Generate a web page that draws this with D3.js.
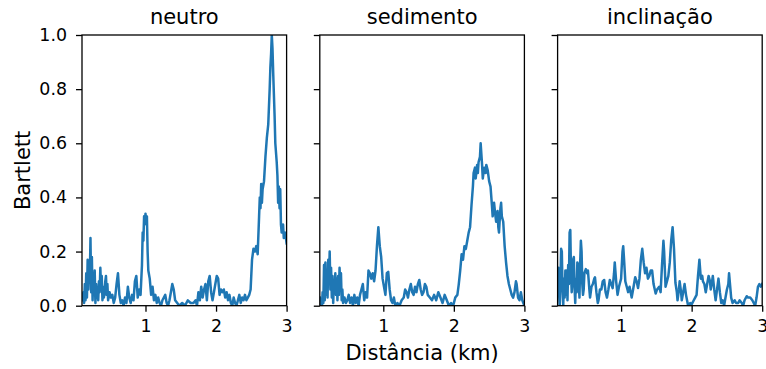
<!DOCTYPE html>
<html>
<head>
<meta charset="utf-8">
<script src="https://cdn.jsdelivr.net/npm/d3@7"></script>
<style>
  body { margin: 0; background: #fff; }
  text { font-family: 'DejaVu Sans', sans-serif; fill: #000; }
</style>
</head>
<body>
<div id="chart"></div>
<script>
// panel titles
const titles = ['neutro', 'sedimento', 'inclinação'];
const xTicks = [1, 2, 3];
const yTicks = [0, 0.2, 0.4, 0.6, 0.8, 1.0];

// neutro
const neutroX = [0.10,0.12,0.13,0.14,0.15,0.16,0.17,0.18,0.19,0.20,0.21,0.22,0.23,0.24,0.25,0.26,0.27,0.28,0.29,0.30,
  0.31,0.32,0.33,0.34,0.35,0.36,0.37,0.38,0.39,0.40,0.41,0.42,0.43,0.44,0.45,0.46,0.47,0.49,0.51,0.53,
  0.55,0.57,0.59,0.61,0.63,0.65,0.67,0.69,0.71,0.73,0.75,0.77,0.79,0.81,0.83,0.85,0.87,0.89,0.91,0.93,
  0.95,0.96,0.97,0.98,0.99,1.00,1.01,1.02,1.03,1.04,1.06,1.08,1.10,1.12,1.14,1.16,1.18,1.20,1.22,1.24,
  1.26,1.28,1.30,1.32,1.34,1.36,1.38,1.40,1.42,1.45,1.48,1.52,1.56,1.60,1.64,1.68,1.71,1.73,1.75,1.77,
  1.79,1.81,1.83,1.85,1.87,1.89,1.91,1.93,1.95,1.97,1.99,2.01,2.03,2.05,2.07,2.09,2.11,2.13,2.15,2.17,
  2.19,2.21,2.23,2.25,2.27,2.29,2.31,2.33,2.35,2.37,2.39,2.41,2.43,2.45,2.47,2.49,2.51,2.53,2.55,2.57,
  2.59,2.61,2.62,2.63,2.64,2.65,2.66,2.68,2.70,2.72,2.74,2.76,2.77,2.78,2.79,2.80,2.81,2.82,2.83,2.84,
  2.86,2.87,2.88,2.89,2.90,2.91,2.92,2.93,2.95,2.96,2.98,3.00];
const neutroY = [0.02,0.05,0.01,0.08,0.02,0.12,0.03,0.17,0.06,0.14,0.09,0.25,0.05,0.18,0.02,0.10,0.04,0.13,0.01,0.08,
  0.03,0.06,0.02,0.09,0.05,0.14,0.06,0.11,0.02,0.07,0.03,0.05,0.09,0.11,0.04,0.08,0.02,0.05,0.03,0.04,
  0.01,0.03,0.08,0.12,0.04,0.01,0.02,0.00,0.03,0.01,0.07,0.03,0.01,0.04,0.02,0.09,0.11,0.03,0.06,0.04,
  0.15,0.27,0.24,0.33,0.30,0.34,0.31,0.33,0.20,0.13,0.10,0.04,0.07,0.02,0.04,0.01,0.03,0.01,0.00,0.02,
  0.03,0.04,0.01,0.00,0.02,0.05,0.08,0.06,0.02,0.01,0.00,0.01,0.00,0.02,0.01,0.01,0.02,0.00,0.05,0.02,
  0.07,0.03,0.06,0.08,0.02,0.09,0.11,0.05,0.02,0.05,0.08,0.11,0.10,0.04,0.06,0.05,0.06,0.03,0.05,0.02,
  0.04,0.01,0.00,0.03,0.01,0.00,0.02,0.04,0.01,0.03,0.02,0.04,0.02,0.03,0.04,0.06,0.17,0.21,0.20,0.22,
  0.19,0.33,0.40,0.36,0.45,0.38,0.43,0.46,0.55,0.62,0.67,0.80,0.88,0.93,1.00,0.95,0.86,0.78,0.70,0.60,
  0.53,0.48,0.38,0.44,0.36,0.43,0.30,0.27,0.30,0.25,0.27,0.23];

// sedimento
const sedX = [0.10,0.11,0.12,0.13,0.14,0.15,0.16,0.17,0.18,0.19,0.20,0.21,0.22,0.23,0.24,0.25,0.26,0.27,0.28,0.29,
  0.30,0.31,0.32,0.33,0.34,0.35,0.36,0.37,0.38,0.39,0.40,0.41,0.42,0.43,0.45,0.47,0.49,0.51,0.53,0.55,
  0.57,0.59,0.61,0.63,0.65,0.67,0.69,0.71,0.73,0.75,0.77,0.79,0.81,0.83,0.85,0.87,0.89,0.91,0.93,0.95,
  0.97,0.99,1.01,1.03,1.05,1.07,1.09,1.11,1.13,1.15,1.17,1.20,1.23,1.26,1.29,1.31,1.33,1.35,1.37,1.39,
  1.41,1.43,1.45,1.47,1.49,1.51,1.53,1.55,1.57,1.59,1.61,1.63,1.66,1.69,1.72,1.75,1.78,1.81,1.84,1.87,
  1.90,1.93,1.96,1.99,2.02,2.05,2.07,2.09,2.11,2.13,2.15,2.17,2.19,2.21,2.23,2.25,2.27,2.28,2.30,2.31,
  2.33,2.34,2.35,2.37,2.38,2.39,2.40,2.41,2.43,2.45,2.46,2.48,2.50,2.52,2.54,2.55,2.57,2.59,2.60,2.62,
  2.63,2.64,2.66,2.67,2.68,2.70,2.72,2.74,2.76,2.78,2.80,2.82,2.84,2.86,2.88,2.89,2.91,2.93,2.95,2.97,3.00];
const sedY = [0.03,0.00,0.02,0.00,0.05,0.01,0.15,0.02,0.16,0.04,0.12,0.03,0.17,0.08,0.20,0.06,0.14,0.03,0.11,0.01,
  0.09,0.05,0.12,0.04,0.10,0.02,0.11,0.04,0.14,0.07,0.12,0.02,0.06,0.01,0.03,0.01,0.02,0.04,0.01,0.03,
  0.00,0.04,0.01,0.03,0.00,0.04,0.06,0.08,0.02,0.05,0.03,0.13,0.12,0.10,0.12,0.09,0.13,0.22,0.29,0.22,
  0.18,0.10,0.07,0.04,0.12,0.125,0.06,0.02,0.01,0.03,0.00,0.01,0.00,0.02,0.03,0.06,0.05,0.03,0.06,0.08,
  0.05,0.04,0.07,0.05,0.08,0.095,0.06,0.04,0.05,0.08,0.07,0.04,0.03,0.02,0.04,0.02,0.05,0.03,0.01,0.04,
  0.02,0.00,0.01,0.00,0.03,0.04,0.08,0.13,0.19,0.17,0.22,0.21,0.24,0.27,0.29,0.37,0.44,0.49,0.51,0.47,
  0.52,0.49,0.53,0.55,0.60,0.56,0.52,0.47,0.51,0.49,0.52,0.50,0.46,0.44,0.37,0.33,0.38,0.33,0.31,0.35,
  0.29,0.27,0.36,0.38,0.33,0.31,0.22,0.16,0.11,0.08,0.06,0.04,0.03,0.05,0.09,0.08,0.03,0.02,0.05,0.02,0.00];

// inclinação
const inclX = [0.10,0.11,0.12,0.13,0.14,0.15,0.16,0.17,0.18,0.19,0.20,0.21,0.22,0.23,0.24,0.25,0.26,0.27,0.28,0.29,
  0.30,0.31,0.32,0.33,0.34,0.35,0.36,0.37,0.38,0.39,0.40,0.41,0.42,0.43,0.44,0.45,0.46,0.47,0.48,0.50,
  0.52,0.53,0.55,0.56,0.58,0.60,0.62,0.63,0.65,0.67,0.68,0.70,0.72,0.74,0.76,0.78,0.80,0.82,0.84,0.86,
  0.88,0.90,0.91,0.93,0.95,0.97,1.00,1.02,1.03,1.04,1.06,1.08,1.10,1.12,1.15,1.17,1.20,1.22,1.24,1.26,
  1.28,1.30,1.32,1.34,1.36,1.38,1.40,1.42,1.44,1.46,1.49,1.51,1.54,1.56,1.58,1.60,1.61,1.63,1.65,1.67,
  1.69,1.71,1.73,1.75,1.77,1.79,1.80,1.82,1.83,1.85,1.86,1.88,1.90,1.92,1.95,1.98,2.00,2.03,2.05,2.07,
  2.09,2.10,2.11,2.13,2.15,2.16,2.18,2.20,2.22,2.24,2.26,2.27,2.29,2.30,2.32,2.34,2.36,2.38,2.40,2.42,
  2.44,2.46,2.48,2.50,2.52,2.53,2.55,2.56,2.58,2.61,2.63,2.66,2.68,2.71,2.73,2.75,2.78,2.80,2.83,2.86,
  2.88,2.90,2.92,2.94,2.96,2.98,3.00];
const inclY = [0.08,0.14,0.05,0.00,0.09,0.21,0.20,0.06,0.00,0.10,0.03,0.13,0.04,0.13,0.02,0.15,0.08,0.27,0.28,0.12,
  0.05,0.09,0.17,0.18,0.07,0.01,0.10,0.05,0.16,0.15,0.08,0.03,0.16,0.24,0.20,0.08,0.04,0.06,0.12,0.135,
  0.12,0.13,0.06,0.03,0.07,0.08,0.10,0.105,0.05,0.01,0.02,0.06,0.06,0.09,0.095,0.05,0.03,0.06,0.095,0.08,
  0.065,0.12,0.16,0.09,0.04,0.07,0.10,0.20,0.22,0.18,0.09,0.07,0.05,0.07,0.03,0.06,0.105,0.09,0.065,0.10,
  0.17,0.21,0.16,0.12,0.14,0.10,0.11,0.13,0.13,0.08,0.045,0.06,0.07,0.05,0.15,0.24,0.20,0.07,0.09,0.11,
  0.16,0.24,0.29,0.21,0.085,0.05,0.02,0.06,0.09,0.05,0.02,0.05,0.08,0.04,0.00,0.01,0.005,0.02,0.03,0.04,
  0.11,0.14,0.17,0.10,0.11,0.09,0.08,0.05,0.08,0.11,0.09,0.06,0.09,0.11,0.06,0.02,0.06,0.10,0.05,0.01,
  0.02,0.00,0.03,0.06,0.08,0.12,0.06,0.03,0.01,0.02,0.01,0.01,0.02,0.01,0.00,0.02,0.035,0.03,0.03,0.02,
  0.01,0.00,0.03,0.07,0.08,0.07,0.08];

const seriesX = [neutroX, sedX, inclX];
const seriesY = [neutroY, sedY, inclY];

const width = 766, height = 369;
const plotTop = 35, plotBottom = 305.7;
const panelLeft = [82, 319.8, 557.6];
const panelW = 204.6;
const tickFont = 17.4, labelFont = 21;

const svg = d3.select('#chart').append('svg')
  .attr('width', width)
  .attr('height', height);

const y = d3.scaleLinear().domain([0, 1]).range([plotBottom, plotTop]);

titles.forEach((title, i) => {
  const x = d3.scaleLinear().domain([0.1, 3]).range([panelLeft[i], panelLeft[i] + panelW]);
  const g = svg.append('g');

  g.append('clipPath').attr('id', 'clip' + i)
    .append('rect')
    .attr('x', panelLeft[i]).attr('y', plotTop)
    .attr('width', panelW).attr('height', plotBottom - plotTop);

  const pts = seriesX[i].map((d, k) => [d, seriesY[i][k]]);
  const line = d3.line().x(d => x(d[0])).y(d => y(d[1]));

  g.append('path')
    .datum(pts)
    .attr('clip-path', 'url(#clip' + i + ')')
    .attr('fill', 'none')
    .attr('stroke', '#1f77b4')
    .attr('stroke-width', 2.5)
    .attr('stroke-linejoin', 'round')
    .attr('stroke-linecap', 'square')
    .attr('d', line);

  // x axis
  const xAxis = g.append('g')
    .attr('transform', `translate(0,${plotBottom})`)
    .call(d3.axisBottom(x).tickValues(xTicks).tickFormat(d3.format('d')).tickSizeOuter(0).tickSize(6).tickPadding(8));
  xAxis.select('.domain').remove();
  xAxis.selectAll('line').attr('stroke-width', 1.3);
  xAxis.selectAll('text').attr('font-size', tickFont);

  // y axis
  const yAxis = g.append('g')
    .attr('transform', `translate(${panelLeft[i]},0)`)
    .call(d3.axisLeft(y).tickValues(yTicks).tickFormat(d3.format('.1f')).tickSizeOuter(0).tickSize(6).tickPadding(9));
  yAxis.select('.domain').remove();
  yAxis.selectAll('line').attr('stroke-width', 1.3);
  yAxis.selectAll('text').attr('font-size', tickFont);
  if (i > 0) yAxis.selectAll('text').remove();

  // frame
  g.append('rect')
    .attr('x', panelLeft[i]).attr('y', plotTop)
    .attr('width', panelW).attr('height', plotBottom - plotTop)
    .attr('fill', 'none')
    .attr('stroke', '#000')
    .attr('stroke-width', 1.3);

  g.append('text')
    .attr('x', panelLeft[i] + panelW / 2)
    .attr('y', 24)
    .attr('text-anchor', 'middle')
    .attr('font-size', labelFont)
    .text(title);
});

svg.append('text')
  .attr('x', (panelLeft[0] + panelLeft[2] + panelW) / 2)
  .attr('y', 360)
  .attr('text-anchor', 'middle')
  .attr('font-size', labelFont)
  .text('Distância (km)');

svg.append('text')
  .attr('transform', `translate(30,${(plotTop + plotBottom) / 2}) rotate(-90)`)
  .attr('text-anchor', 'middle')
  .attr('font-size', labelFont)
  .text('Bartlett');
</script>
</body>
</html>
